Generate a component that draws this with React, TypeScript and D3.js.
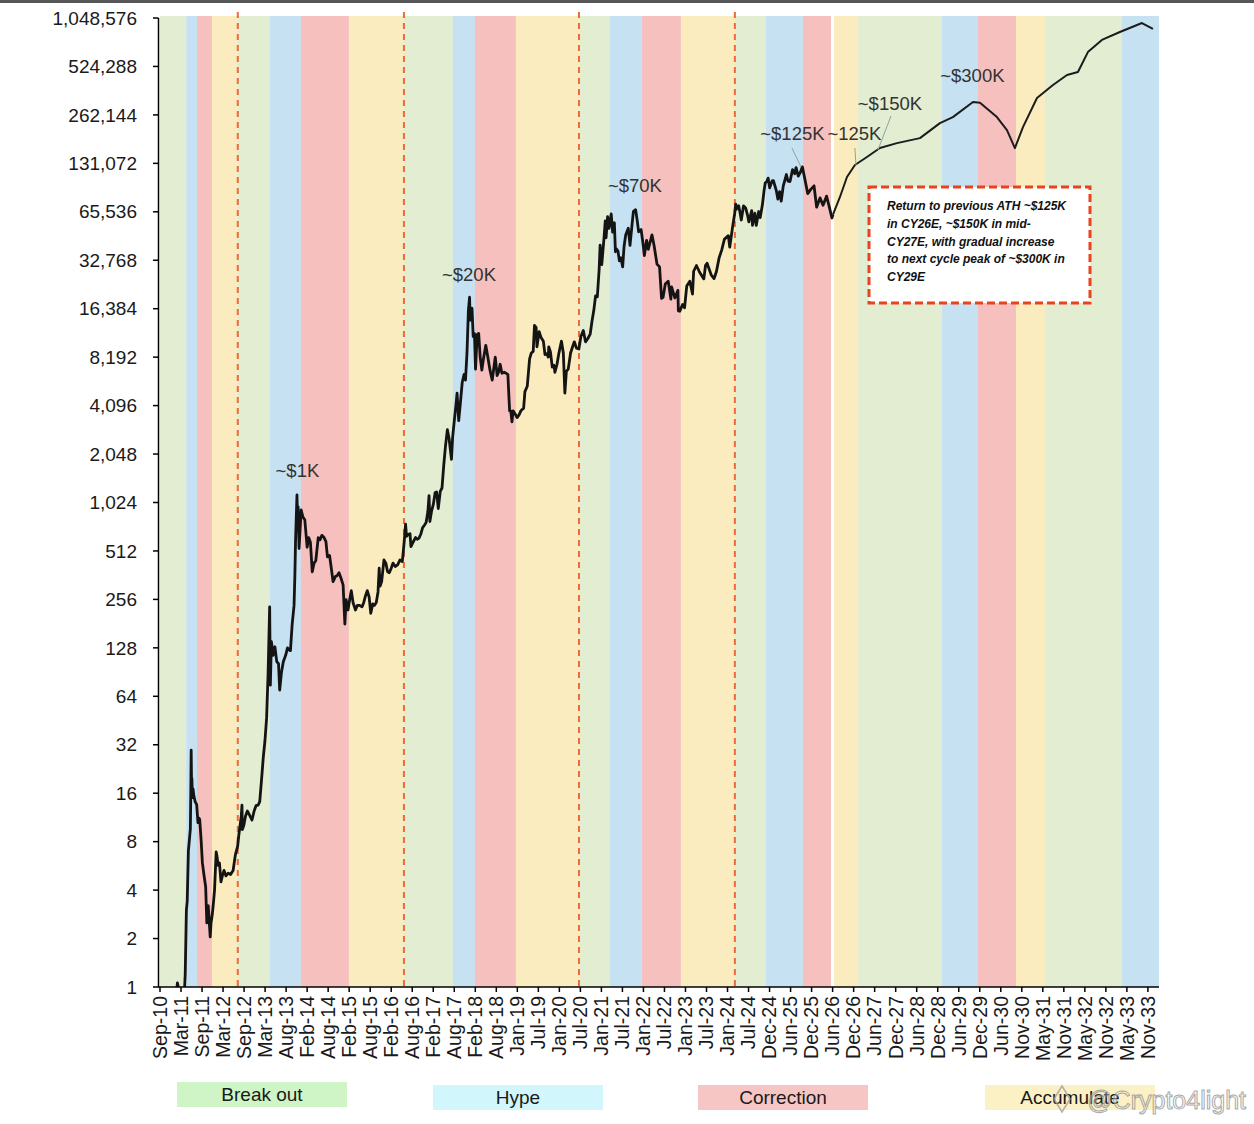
import React from "react";
import * as d3 from "d3";

// ---------- data ----------
const axisStart = "2010-09-14";
const axisEnd = "2034-02-15";
const tickStepDays = 180;

const tickLabels = [
  "Sep-10","Mar-11","Sep-11","Mar-12","Sep-12","Mar-13","Aug-13","Feb-14","Aug-14","Feb-15",
  "Aug-15","Feb-16","Aug-16","Feb-17","Aug-17","Feb-18","Aug-18","Jan-19","Jul-19","Jan-20",
  "Jul-20","Jan-21","Jul-21","Jan-22","Jul-22","Jan-23","Jul-23","Jan-24","Jul-24","Dec-24",
  "Jun-25","Dec-25","Jun-26","Dec-26","Jun-27","Dec-27","Jun-28","Dec-28","Jun-29","Dec-29",
  "Jun-30","Nov-30","May-31","Nov-31","May-32","Nov-32","May-33","Nov-33",
];

const yTickValues = [1,2,4,8,16,32,64,128,256,512,1024,2048,4096,8192,16384,32768,65536,131072,262144,524288,1048576];

const phases = ["Break out", "Hype", "Correction", "Accumulate"];
const phaseFill = ["#e2edd2", "#c6e1f2", "#f5c0bd", "#faecbf"];
const legendFill = ["#cff5c6", "#d1f6fb", "#f5c6c3", "#fbf1c4"];

const bandStart = [
  "2010-09-14","2011-04-26","2011-07-28","2011-12-03","2012-07-13","2013-04-13","2014-01-03","2015-02-18",
  "2016-06-03","2017-07-28","2018-02-01","2019-01-18","2020-07-19","2021-04-02","2022-01-01","2022-12-01",
  "2024-03-08","2024-11-28","2025-10-11","2026-07-03","2027-01-25","2029-01-13","2029-11-18","2030-10-09",
  "2031-06-14","2033-04-04",
];
const bandEnd = [
  "2011-04-26","2011-07-28","2011-12-03","2012-07-13","2013-04-13","2014-01-03","2015-02-18","2016-06-03",
  "2017-07-28","2018-02-01","2019-01-18","2020-07-19","2021-04-02","2022-01-01","2022-12-01","2024-03-08",
  "2024-11-28","2025-10-11","2026-06-08","2027-01-25","2029-01-13","2029-11-18","2030-10-09","2031-06-14",
  "2033-04-04","2034-02-15",
];
const bandPhase = [0,1,2,3, 0,1,2,3, 0,1,2,3, 0,1,2,3, 0,1,2,3, 0,1,2,3, 0,1];

const cycleLines = ["2012-07-11", "2016-06-03", "2020-07-11", "2024-03-07"];

const history: [string, number][] = [
  ["2011-02-01",0.9],["2011-02-10",1.06],["2011-02-25",0.95],["2011-03-10",0.92],["2011-03-25",0.85],
  ["2011-04-05",0.75],["2011-04-18",1.2],["2011-04-28",3.0],["2011-05-05",3.4],["2011-05-15",7.0],
  ["2011-05-25",8.4],["2011-06-01",9.6],["2011-06-05",17],["2011-06-08",29.6],["2011-06-11",19],
  ["2011-06-14",19.8],["2011-06-19",15],["2011-06-24",17],["2011-07-01",15.4],["2011-07-12",14.2],
  ["2011-07-25",13.6],["2011-08-05",10.5],["2011-08-14",11.2],["2011-08-20",11],["2011-09-01",8.2],
  ["2011-09-12",5.9],["2011-09-25",5.0],["2011-10-10",4.2],["2011-10-20",2.5],["2011-11-01",3.2],
  ["2011-11-18",2.05],["2011-11-25",2.5],["2011-12-05",2.8],["2011-12-15",3.3],["2011-12-25",4.0],
  ["2012-01-08",6.9],["2012-01-15",6.5],["2012-01-25",5.7],["2012-02-05",5.9],["2012-02-18",4.5],
  ["2012-03-01",4.9],["2012-03-15",5.3],["2012-04-01",4.9],["2012-04-20",5.1],["2012-05-10",5.0],
  ["2012-06-01",5.3],["2012-06-20",6.6],["2012-07-10",7.5],["2012-07-20",8.8],["2012-08-10",11.5],
  ["2012-08-16",13.5],["2012-08-19",9.5],["2012-09-01",10.1],["2012-09-15",11.5],["2012-10-01",12.4],
  ["2012-10-20",11.7],["2012-11-10",10.9],["2012-11-28",12.4],["2012-12-15",13.4],["2013-01-01",13.5],
  ["2013-01-15",14.2],["2013-02-01",20],["2013-02-15",27],["2013-03-01",34],["2013-03-15",47],
  ["2013-03-28",90],["2013-04-10",230],["2013-04-16",75],["2013-04-25",140],["2013-05-10",115],
  ["2013-05-25",130],["2013-06-10",105],["2013-06-25",102],["2013-07-05",70],["2013-07-20",90],
  ["2013-08-05",105],["2013-08-25",115],["2013-09-10",128],["2013-09-25",124],["2013-10-05",123],
  ["2013-10-20",180],["2013-11-05",235],["2013-11-12",360],["2013-11-18",600],["2013-11-30",1140],
  ["2013-12-07",720],["2013-12-10",960],["2013-12-18",530],["2013-12-25",660],["2014-01-05",920],
  ["2014-01-20",830],["2014-02-05",800],["2014-02-25",540],["2014-03-10",620],["2014-03-25",580],
  ["2014-04-10",380],["2014-04-25",430],["2014-05-10",445],["2014-05-31",620],["2014-06-15",600],
  ["2014-07-01",640],["2014-07-20",620],["2014-08-05",585],["2014-08-18",470],["2014-09-05",480],
  ["2014-09-20",400],["2014-10-05",330],["2014-10-25",355],["2014-11-10",360],["2014-11-25",375],
  ["2014-12-10",350],["2014-12-30",315],["2015-01-14",180],["2015-01-25",255],["2015-02-10",220],
  ["2015-02-20",245],["2015-03-10",290],["2015-03-25",245],["2015-04-15",220],["2015-05-01",235],
  ["2015-05-20",235],["2015-06-10",230],["2015-06-25",245],["2015-07-10",270],["2015-07-25",290],
  ["2015-08-10",265],["2015-08-24",210],["2015-09-10",240],["2015-09-25",235],["2015-10-10",245],
  ["2015-10-25",285],["2015-11-04",400],["2015-11-12",310],["2015-11-25",330],["2015-12-15",450],
  ["2015-12-31",430],["2016-01-15",380],["2016-01-30",375],["2016-02-15",400],["2016-03-01",430],
  ["2016-03-20",410],["2016-04-10",420],["2016-04-30",450],["2016-05-20",440],["2016-06-05",580],
  ["2016-06-17",750],["2016-06-25",630],["2016-07-10",650],["2016-07-25",655],["2016-08-02",545],
  ["2016-08-20",580],["2016-09-10",620],["2016-09-25",605],["2016-10-10",615],["2016-10-25",650],
  ["2016-11-10",715],["2016-11-25",740],["2016-12-10",770],["2016-12-25",900],["2017-01-04",1130],
  ["2017-01-11",780],["2017-01-25",900],["2017-02-10",1000],["2017-02-25",1180],["2017-03-10",1190],
  ["2017-03-24",940],["2017-04-10",1200],["2017-04-25",1260],["2017-05-10",1750],["2017-05-25",2300],
  ["2017-06-10",2900],["2017-06-25",2550],["2017-07-15",1900],["2017-07-25",2600],["2017-08-10",3400],
  ["2017-08-25",4300],["2017-09-01",4900],["2017-09-15",3300],["2017-09-30",4300],["2017-10-15",5700],
  ["2017-10-31",6400],["2017-11-12",5900],["2017-11-25",8700],["2017-12-07",16000],["2017-12-17",19300],
  ["2017-12-22",13900],["2017-12-31",14000],["2018-01-07",16500],["2018-01-17",11000],["2018-01-28",11500],
  ["2018-02-06",6900],["2018-02-20",11300],["2018-03-05",11500],["2018-03-18",8200],["2018-04-01",6800],
  ["2018-04-15",8000],["2018-05-05",9700],["2018-05-20",8400],["2018-06-10",6800],["2018-06-29",5900],
  ["2018-07-25",8200],["2018-08-10",6300],["2018-08-25",6700],["2018-09-05",7400],["2018-09-20",6500],
  ["2018-10-10",6600],["2018-11-10",6400],["2018-11-20",4500],["2018-11-25",3800],["2018-12-05",3800],
  ["2018-12-15",3250],["2018-12-25",3800],["2019-01-10",3650],["2019-01-28",3450],["2019-02-15",3600],
  ["2019-03-01",3800],["2019-03-25",3950],["2019-04-05",5000],["2019-04-25",5400],["2019-05-15",8000],
  ["2019-05-30",8700],["2019-06-15",8900],["2019-06-26",12900],["2019-07-10",12500],["2019-07-17",9500],
  ["2019-08-05",11800],["2019-08-20",10900],["2019-09-10",10300],["2019-09-24",8500],["2019-10-10",8600],
  ["2019-10-22",8200],["2019-10-26",9500],["2019-11-10",8800],["2019-11-25",7100],["2019-12-10",7300],
  ["2019-12-18",6600],["2020-01-05",7400],["2020-01-20",8600],["2020-02-12",10300],["2020-02-28",8700],
  ["2020-03-12",4900],["2020-03-25",6700],["2020-04-10",6900],["2020-04-30",8700],["2020-05-15",9400],
  ["2020-06-01",10200],["2020-06-20",9300],["2020-07-10",9200],["2020-07-27",11000],["2020-08-17",12000],
  ["2020-09-05",10200],["2020-09-25",10700],["2020-10-15",11400],["2020-10-31",13800],["2020-11-15",16000],
  ["2020-11-30",19700],["2020-12-15",19400],["2020-12-31",29000],["2021-01-08",40700],["2021-01-22",30800],
  ["2021-02-10",44800],["2021-02-21",57500],["2021-02-28",45200],["2021-03-13",61200],["2021-03-25",51700],
  ["2021-04-13",63500],["2021-04-25",49000],["2021-05-10",56000],["2021-05-19",37000],["2021-05-25",38700],
  ["2021-06-10",37300],["2021-06-22",32500],["2021-07-05",34000],["2021-07-20",29800],["2021-08-01",39900],
  ["2021-08-15",47000],["2021-09-06",51800],["2021-09-21",40500],["2021-10-05",51500],["2021-10-20",66000],
  ["2021-11-08",67500],["2021-11-20",59000],["2021-12-04",49200],["2021-12-25",50800],["2022-01-10",41800],
  ["2022-01-22",35000],["2022-02-10",43500],["2022-02-24",38300],["2022-03-28",47100],["2022-04-15",40500],
  ["2022-05-10",31000],["2022-06-01",29800],["2022-06-18",19000],["2022-07-01",19300],["2022-07-20",23300],
  ["2022-08-14",24300],["2022-09-06",18800],["2022-09-12",22400],["2022-10-10",19100],["2022-11-05",21300],
  ["2022-11-09",15900],["2022-11-21",15800],["2022-12-15",17400],["2023-01-01",16600],["2023-01-20",22700],
  ["2023-02-15",24300],["2023-03-10",20200],["2023-03-20",28000],["2023-04-13",30400],["2023-05-10",27600],
  ["2023-06-15",25100],["2023-06-30",30500],["2023-07-13",31400],["2023-08-17",26600],["2023-09-11",25200],
  ["2023-10-01",27900],["2023-10-24",33900],["2023-11-15",37900],["2023-12-08",44200],["2024-01-11",46600],
  ["2024-01-23",39500],["2024-02-15",51900],["2024-03-05",63800],["2024-03-14",73100],["2024-03-20",67900],
  ["2024-04-08",71600],["2024-04-20",64900],["2024-05-01",58300],["2024-05-20",71400],["2024-06-07",69300],
  ["2024-06-25",61800],["2024-07-05",56700],["2024-07-29",66700],["2024-08-05",54000],["2024-08-25",64200],
  ["2024-09-06",53900],["2024-09-27",65800],["2024-10-10",60300],["2024-10-29",72700],["2024-11-12",88700],
  ["2024-11-22",98900],["2024-12-05",101000],["2024-12-17",106100],["2024-12-30",92300],["2025-01-20",102000],
  ["2025-01-31",102400],["2025-02-25",88700],["2025-03-10",78600],["2025-03-25",87500],["2025-04-08",76300],
  ["2025-04-25",94600],["2025-05-22",111700],["2025-06-05",101500],["2025-06-22",101000],["2025-07-14",119800],
  ["2025-08-02",113000],["2025-08-13",123300],["2025-09-01",109200],["2025-09-20",115800],["2025-10-06",124700],
  ["2025-10-28",104000],["2025-11-21",85000],["2025-12-15",90000],["2026-01-14",95000],["2026-02-05",70000],
  ["2026-03-06",80000],["2026-04-01",72000],["2026-05-01",82000],["2026-05-25",70000],["2026-06-16",60000],
  ["2026-06-25",63000],
];

const forecast: [string, number][] = [
  ["2026-06-25",63000],["2026-08-24",81000],["2026-10-23",107800],["2026-12-30",128000],
  ["2027-04-12",143600],["2027-08-01",163200],["2027-12-25",175000],["2028-07-09",188000],
  ["2028-12-27",233000],["2029-04-17",254000],["2029-10-06",315000],["2029-12-05",312000],
  ["2030-04-29",254000],["2030-07-24",211000],["2030-09-30",163000],["2030-12-08",220000],
  ["2031-04-07",334000],["2031-08-22",402000],["2031-12-20",464000],["2032-03-23",484000],
  ["2032-06-16",644000],["2032-10-14",766000],["2033-03-17",858000],["2033-09-22",976000],
  ["2033-12-25",896000],
];

const peakLabels: [string, number, string][] = [
  ["2013-12-04", 1475, "~$1K"],
  ["2017-12-12", 24300, "~$20K"],
  ["2021-11-02", 87000, "~$70K"],
  ["2025-07-13", 183000, "~$125K"],
  ["2026-12-26", 183000, "~125K"],
  ["2027-10-26", 281000, "~$150K"],
  ["2029-10-01", 419000, "~$300K"],
];

const leaderLines: [string, number, string, number][] = [
  ["2025-07-09", 163000, "2025-09-24", 124600],
  ["2026-12-30", 163000, "2027-01-08", 128000],
  ["2027-11-04", 258000, "2027-07-15", 158700],
];

const noteLines = [
  "Return to previous ATH ~$125K",
  "in CY26E, ~$150K in mid-",
  "CY27E, with gradual increase",
  "to next cycle peak of ~$300K in",
  "CY29E",
];

// ---------- layout ----------
const W = 1254;
const H = 1124;
const plot = { left: 160, right: 1159, top: 18, bottom: 987 };
const bandTop = 16;
const legendLeft = [177, 433, 698, 985];
const legendTop = [1082, 1085, 1085, 1085];
const FONT = "'Liberation Sans', Arial, Helvetica, sans-serif";

export default function App() {
  const parse = d3.utcParse("%Y-%m-%d");
  const d0 = parse(axisStart) as Date;
  const d1 = parse(axisEnd) as Date;
  const x = d3.scaleUtc().domain([d0, d1]).range([plot.left, plot.right]);
  const y = d3.scaleLog().base(2).domain([1, 1048576]).range([plot.bottom, plot.top]);

  const line = d3
    .line<[string, number]>()
    .x((d) => x(parse(d[0]) as Date))
    .y((d) => y(d[1]));

  const tickDates = tickLabels.map((_, i) => d3.utcDay.offset(d0, i * tickStepDays));
  const fmt = d3.format(",");

  return (
    <svg
      width={W}
      height={H}
      viewBox={`0 0 ${W} ${H}`}
      style={{ position: "absolute", left: 0, top: 0, background: "#fff", fontFamily: FONT }}
    >
      <defs>
        <clipPath id="plotClip">
          <rect x={plot.left} y={0} width={plot.right - plot.left} height={plot.bottom} />
        </clipPath>
      </defs>
      <rect x={0} y={0} width={W} height={H} fill="#fff" />
      <rect x={0} y={0} width={W} height={3} fill="#575757" />

      {/* phase bands */}
      {bandStart.map((s, i) => {
        const xa = x(parse(s) as Date);
        const xb = x(parse(bandEnd[i]) as Date);
        return (
          <rect
            key={"b" + i}
            x={xa}
            y={bandTop}
            width={xb - xa}
            height={plot.bottom - bandTop}
            fill={phaseFill[bandPhase[i]]}
          />
        );
      })}

      {/* cycle dashed lines */}
      {cycleLines.map((c, i) => (
        <line
          key={"c" + i}
          x1={x(parse(c) as Date)}
          x2={x(parse(c) as Date)}
          y1={12}
          y2={plot.bottom}
          stroke="#ef6a3a"
          strokeWidth={2}
          strokeDasharray="6 5"
        />
      ))}

      {/* price lines */}
      <g clipPath="url(#plotClip)">
        <path d={line(history) || ""} fill="none" stroke="#141414" strokeWidth={2.8} strokeLinejoin="round" />
        <path d={line(forecast) || ""} fill="none" stroke="#1c1c1c" strokeWidth={2} strokeLinejoin="round" />
      </g>

      {/* leader lines */}
      {leaderLines.map((l, i) => (
        <line
          key={"l" + i}
          x1={x(parse(l[0]) as Date)}
          y1={y(l[1])}
          x2={x(parse(l[2]) as Date)}
          y2={y(l[3])}
          stroke="#8fa39a"
          strokeWidth={1}
        />
      ))}

      {/* peak labels */}
      {peakLabels.map((p, i) => (
        <text
          key={"p" + i}
          x={x(parse(p[0]) as Date)}
          y={y(p[1])}
          textAnchor="middle"
          fontSize={18.5}
          fill="#333"
        >
          {p[2]}
        </text>
      ))}

      {/* y axis */}
      <line x1={158.5} x2={158.5} y1={plot.top} y2={plot.bottom} stroke="#000" strokeWidth={1.5} />
      {yTickValues.map((v) => (
        <g key={"y" + v}>
          <line x1={153} x2={158.5} y1={y(v)} y2={y(v)} stroke="#000" strokeWidth={1.5} />
          <text x={137} y={y(v)} dy="0.35em" textAnchor="end" fontSize={19} fill="#1a1a1a">
            {fmt(v)}
          </text>
        </g>
      ))}

      {/* x axis */}
      <line x1={158} x2={plot.right} y1={plot.bottom} y2={plot.bottom} stroke="#000" strokeWidth={1.5} />
      {tickDates.map((t, i) => {
        const tx = x(t);
        return (
          <g key={"x" + i}>
            <line x1={tx} x2={tx} y1={plot.bottom} y2={plot.bottom + 5} stroke="#000" strokeWidth={1.5} />
            <text
              transform={`translate(${tx},${plot.bottom + 9}) rotate(-90)`}
              dy="0.35em"
              textAnchor="end"
              fontSize={19.5}
              fill="#1a1a1a"
            >
              {tickLabels[i]}
            </text>
          </g>
        );
      })}

      {/* note box */}
      <rect
        x={869}
        y={187}
        width={221}
        height={116}
        fill="#fff"
        stroke="#e8431f"
        strokeWidth={3}
        strokeDasharray="8 4"
      />
      {noteLines.map((t, i) => (
        <text
          key={"n" + i}
          x={887}
          y={210 + i * 17.8}
          fontSize={12}
          fontWeight="bold"
          fontStyle="italic"
          fill="#111"
        >
          {t}
        </text>
      ))}

      {/* legend */}
      {phases.map((p, i) => (
        <g key={"lg" + i}>
          <rect x={legendLeft[i]} y={legendTop[i]} width={170} height={25} fill={legendFill[i]} />
          <text
            x={legendLeft[i] + 85}
            y={legendTop[i] + 12.5}
            dy="0.35em"
            textAnchor="middle"
            fontSize={19}
            fill="#1a1a1a"
          >
            {p}
          </text>
        </g>
      ))}

      {/* watermark */}
      <g opacity={0.75}>
        <path d="M1062,1086 L1070,1099 L1062,1112 L1054,1099 Z" fill="none" stroke="#999" strokeWidth={1.5} />
        <text
          x={1246}
          y={1109}
          textAnchor="end"
          fontSize={25}
          fill="#fff"
          fillOpacity={0.5}
          stroke="#8c8c8c"
          strokeWidth={1}
        >
          @Crypto4light
        </text>
      </g>
    </svg>
  );
}
